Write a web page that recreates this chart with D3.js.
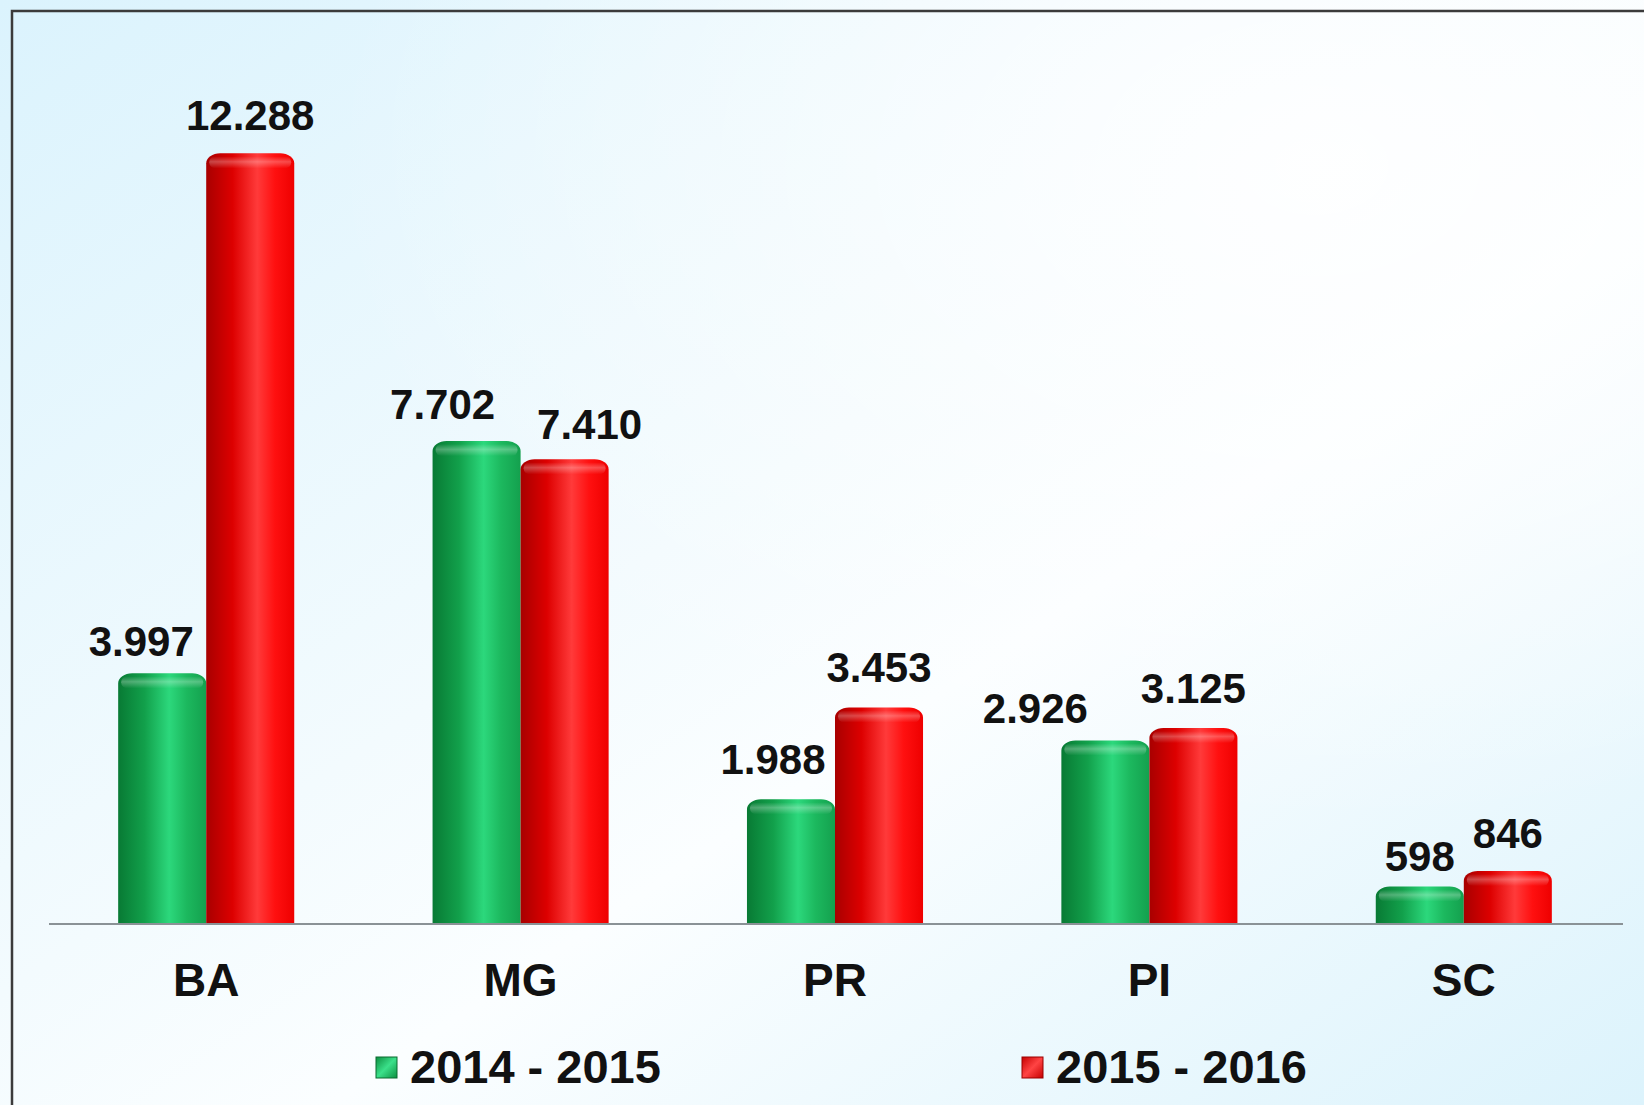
<!DOCTYPE html>
<html lang="en">
<head>
    <meta charset="UTF-8">
    <title>BA MG PR PI SC</title>
    <script src="https://d3js.org/d3.v7.min.js"></script>
    <style>
        body { margin: 0; background: #e1f5fd; }
        text { font-family: "Liberation Sans", Arial, sans-serif; font-weight: bold; fill: #111; }
    </style>
</head>
<body>
    <div id="chart"></div>

    <script>
        // data
        const categories = ["BA", "MG", "PR", "PI", "SC"];
        const seriesNames = ["2014 - 2015", "2015 - 2016"];
        const values2014 = [3997, 7702, 1988, 2926, 598];
        const values2015 = [12288, 7410, 3453, 3125, 846];

        // manual label nudges (the source chart has hand-moved labels)
        const nudgeX = [[-21, -34, -18, -70, 0], [0, 25, 0, 0, 0]];
        const gapY = [[17, 22, 25, 17, 15], [23, 20, 25, 25, 23]];

        const W = 1644, H = 1105;
        const baseY = 924;

        const ptBR = d3.formatLocale({ decimal: ",", thousands: ".", grouping: [3], currency: ["R$", ""] });
        const fmt = ptBR.format(",d");

        const svg = d3.select("#chart")
            .append("svg")
            .attr("width", W)
            .attr("height", H);

        const defs = svg.append("defs");

        // background
        const bg = defs.append("linearGradient").attr("id", "bg")
            .attr("x1", "0").attr("y1", "0").attr("x2", "1").attr("y2", "1");
        bg.append("stop").attr("offset", "0").attr("stop-color", "#dbf3fd");
        bg.append("stop").attr("offset", "0.45").attr("stop-color", "#f3fbfe");
        bg.append("stop").attr("offset", "0.6").attr("stop-color", "#fbfeff");
        bg.append("stop").attr("offset", "1").attr("stop-color", "#dcf3fc");

        const glow = defs.append("radialGradient").attr("id", "glow")
            .attr("cx", "0.8").attr("cy", "0.15").attr("r", "0.6");
        glow.append("stop").attr("offset", "0").attr("stop-color", "#ffffff").attr("stop-opacity", 0.9);
        glow.append("stop").attr("offset", "1").attr("stop-color", "#ffffff").attr("stop-opacity", 0);

        svg.append("rect").attr("width", W).attr("height", H).attr("fill", "url(#bg)");
        svg.append("rect").attr("width", W).attr("height", H).attr("fill", "url(#glow)");

        // frame (right/bottom edges run off the picture)
        svg.append("rect")
            .attr("x", 12).attr("y", 11)
            .attr("width", W + 20).attr("height", H + 20)
            .attr("fill", "none")
            .attr("stroke", "#3b3b3b")
            .attr("stroke-width", 2.5);

        // cylinder gradients
        const palettes = [
            ["#087a34", "#12a04b", "#2cd87c", "#1cb85e", "#14a04e"],
            ["#a80000", "#dd0000", "#ff3a3a", "#ff1010", "#ee0000"]
        ];
        palettes.forEach((p, i) => {
            const g = defs.append("linearGradient").attr("id", "bar" + i)
                .attr("x1", "0").attr("x2", "1").attr("y1", "0").attr("y2", "0");
            [0, 0.3, 0.58, 0.78, 1].forEach((o, k) => {
                g.append("stop").attr("offset", o).attr("stop-color", p[k]);
            });
        });
        const cap = defs.append("linearGradient").attr("id", "cap")
            .attr("x1", "0").attr("x2", "0").attr("y1", "0").attr("y2", "1");
        cap.append("stop").attr("offset", "0").attr("stop-color", "#fff").attr("stop-opacity", 0);
        cap.append("stop").attr("offset", "0.45").attr("stop-color", "#fff").attr("stop-opacity", 0.28);
        cap.append("stop").attr("offset", "1").attr("stop-color", "#fff").attr("stop-opacity", 0);

        // scales
        const x = d3.scaleBand()
            .domain(categories)
            .range([49, 1621])
            .paddingInner(0.44)
            .paddingOuter(0.22);

        const x1 = d3.scaleBand()
            .domain(seriesNames)
            .range([0, x.bandwidth()]);

        const y = d3.scaleLinear()
            .domain([0, 14000])
            .range([baseY, 46]);

        const rows = categories.map((c, i) => ({
            cat: c,
            idx: i,
            vals: [values2014[i], values2015[i]]
        }));

        const rx = 14, ry = 10;
        function barPath(x0, w, top) {
            return `M${x0},${baseY} L${x0},${top + ry} A${rx},${ry} 0 0 1 ${x0 + rx},${top}` +
                ` L${x0 + w - rx},${top} A${rx},${ry} 0 0 1 ${x0 + w},${top + ry} L${x0 + w},${baseY} Z`;
        }

        const groups = svg.append("g").selectAll("g")
            .data(rows)
            .enter()
            .append("g")
            .attr("transform", d => `translate(${x(d.cat)},0)`);

        const cells = groups.selectAll("g")
            .data(d => d.vals.map((v, s) => ({ v: v, s: s, idx: d.idx })))
            .enter()
            .append("g");

        cells.append("path")
            .attr("d", d => barPath(x1(seriesNames[d.s]), x1.bandwidth(), y(d.v)))
            .attr("fill", d => `url(#bar${d.s})`);

        cells.append("rect")
            .attr("x", d => x1(seriesNames[d.s]) + 3)
            .attr("y", d => y(d.v) + 3)
            .attr("width", x1.bandwidth() - 6)
            .attr("height", 12)
            .attr("rx", 6)
            .attr("fill", "url(#cap)");

        // value labels
        cells.append("text")
            .attr("x", d => x1(seriesNames[d.s]) + x1.bandwidth() / 2 + nudgeX[d.s][d.idx])
            .attr("y", d => y(d.v) - gapY[d.s][d.idx])
            .attr("text-anchor", "middle")
            .style("font-size", "42px")
            .text(d => fmt(d.v));

        // baseline
        svg.append("line")
            .attr("x1", 49).attr("x2", 1623)
            .attr("y1", baseY).attr("y2", baseY)
            .attr("stroke", "#8a9296")
            .attr("stroke-width", 2);

        // category labels
        svg.append("g").selectAll("text")
            .data(categories)
            .enter()
            .append("text")
            .attr("x", d => x(d) + x.bandwidth() / 2)
            .attr("y", 996)
            .attr("text-anchor", "middle")
            .style("font-size", "46px")
            .text(d => d);

        // legend
        const legendX = [376, 1022];
        const legendColors = [["#0c8f40", "#3be08a"], ["#c60000", "#ff4444"]];
        legendColors.forEach((c, i) => {
            const g = defs.append("linearGradient").attr("id", "leg" + i)
                .attr("x1", "0").attr("x2", "1").attr("y1", "0").attr("y2", "1");
            g.append("stop").attr("offset", "0").attr("stop-color", c[0]);
            g.append("stop").attr("offset", "0.5").attr("stop-color", c[1]);
            g.append("stop").attr("offset", "1").attr("stop-color", c[0]);
        });

        const legend = svg.append("g").selectAll("g")
            .data(seriesNames)
            .enter()
            .append("g")
            .attr("transform", (d, i) => `translate(${legendX[i]},1057)`);

        legend.append("rect")
            .attr("width", 21).attr("height", 21)
            .attr("fill", (d, i) => `url(#leg${i})`)
            .attr("stroke", (d, i) => i === 0 ? "#0a6a30" : "#990000")
            .attr("stroke-width", 1);

        legend.append("text")
            .attr("x", 34)
            .attr("y", 26)
            .style("font-size", "47px")
            .text(d => d);
    </script>
</body>
</html>
